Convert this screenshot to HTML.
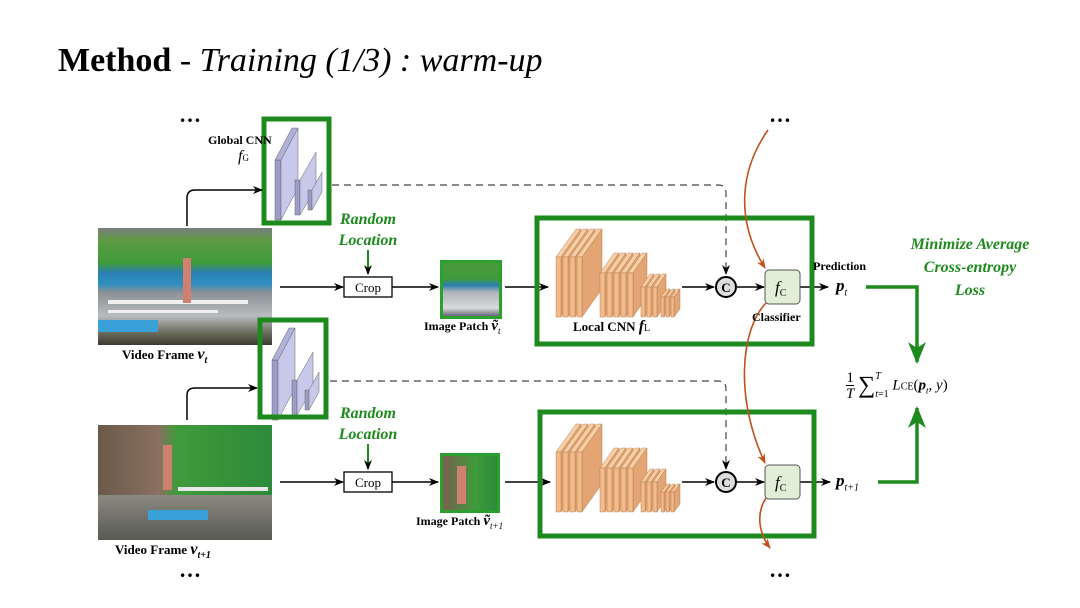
<!DOCTYPE html>
<html><head><meta charset="utf-8"><style>
html,body{margin:0;padding:0;background:#fff;}
body{width:1080px;height:608px;overflow:hidden;position:relative;font-family:"Liberation Serif",serif;}
.t{position:absolute;white-space:nowrap;}
.photo{position:absolute;overflow:hidden;}
</style></head><body>
<div class="t" style="left:58px;top:42px;font-size:34px;"><b>Method</b> - <i>Training (1/3) : warm-up</i></div>

<!-- photos -->
<div class="photo" style="left:98px;top:228px;width:174px;height:117px;background:linear-gradient(#7a7e80 0%,#5d9a44 10%,#3f9b3a 30%,#2a7fb0 38%,#2e8fc0 48%,#8a9095 55%,#b8bcbe 75%,#6a6a5a 90%,#3a3a30 100%);">
<div style="position:absolute;left:0;top:92px;width:60px;height:12px;background:#3aa0d8;"></div>
<div style="position:absolute;left:10px;top:72px;width:140px;height:4px;background:#f0f0f0;"></div>
<div style="position:absolute;left:10px;top:82px;width:110px;height:3px;background:#f0f0f0;"></div>
<div style="position:absolute;left:85px;top:30px;width:8px;height:45px;background:#d08070;"></div></div>
<div class="photo" style="left:98px;top:425px;width:174px;height:115px;background:linear-gradient(90deg,#6a5a4a 0%,#8a7060 35%,#3f9b3a 45%,#2d8a3a 100%);">
<div style="position:absolute;left:0;top:70px;width:174px;height:45px;background:linear-gradient(#8a8a80,#5a5a55);"></div>
<div style="position:absolute;left:50px;top:85px;width:60px;height:10px;background:#3aa0d8;"></div>
<div style="position:absolute;left:80px;top:62px;width:90px;height:4px;background:#e8e8e8;"></div>
<div style="position:absolute;left:65px;top:20px;width:9px;height:45px;background:#d08070;"></div></div>
<!-- patches -->
<div class="photo" style="left:440px;top:260px;width:56px;height:53px;border:3px solid #2ca02c;background:linear-gradient(#4a9a3c 0%,#3f9b3a 30%,#2a80b0 42%,#b0b4b8 55%,#d8dadc 85%,#667 100%);"></div>
<div class="photo" style="left:440px;top:453px;width:54px;height:54px;border:3px solid #2ca02c;background:linear-gradient(90deg,#7a6050,#3f9b3a 60%,#2d8a3a);"><div style="position:absolute;left:14px;top:10px;width:9px;height:38px;background:#d08070;"></div></div>

<svg width="1080" height="608" style="position:absolute;left:0;top:0" xmlns="http://www.w3.org/2000/svg">
<defs>
<marker id="ab" markerWidth="10" markerHeight="8" refX="9" refY="4" orient="auto" markerUnits="userSpaceOnUse"><path d="M0,0 L10,4 L0,8 L3,4z" fill="#000"/></marker>
<marker id="ag" markerWidth="22" markerHeight="18" refX="20" refY="9" orient="auto" markerUnits="userSpaceOnUse"><path d="M0,0 L22,9 L0,18 L6,9z" fill="#1e8a1e"/></marker>
<marker id="ar" markerWidth="10" markerHeight="8" refX="9" refY="4" orient="auto" markerUnits="userSpaceOnUse"><path d="M0,0 L10,4 L0,8 L3,4z" fill="#c0501c"/></marker>
<g id="gcnn">
<polygon points="275,160 281,160 281,220 275,220" fill="#9c9cc8" stroke="#666" stroke-width="0.5"/>
<polygon points="281,160 298,128 298,188 281,220" fill="#c8c8ea" stroke="#666" stroke-width="0.5"/>
<polygon points="275,160 292,128 298,128 281,160" fill="#b0b0d8" stroke="#666" stroke-width="0.5"/>
<polygon points="295,180 300,180 300,215 295,215" fill="#9c9cc8" stroke="#666" stroke-width="0.5"/>
<polygon points="300,180 316,152 316,188 300,215" fill="#c8c8ea" stroke="#666" stroke-width="0.5"/>
<polygon points="308,190 312,190 312,210 308,210" fill="#9c9cc8" stroke="#666" stroke-width="0.5"/>
<polygon points="312,190 322,172 322,192 312,210" fill="#c8c8ea" stroke="#666" stroke-width="0.5"/>
</g>
</defs>
<!-- global CNN top -->
<use href="#gcnn"/>
<rect x="264" y="119" width="65" height="104" fill="none" stroke="#1e8a1e" stroke-width="5"/>
<!-- global CNN bottom -->
<use href="#gcnn" transform="translate(-3,200)"/>
<rect x="260" y="320" width="66" height="97" fill="none" stroke="#1e8a1e" stroke-width="5"/>

<!-- frame to global arrows -->
<path d="M187,226 V198 Q187,190 195,190 H262" fill="none" stroke="#000" stroke-width="1.5" marker-end="url(#ab)"/>
<path d="M187,420 V395 Q187,388 195,388 H257" fill="none" stroke="#000" stroke-width="1.5" marker-end="url(#ab)"/>
<!-- dashed -->
<path d="M332,185 H718 Q726,185 726,193 V274" fill="none" stroke="#444" stroke-width="1.2" stroke-dasharray="7,5" marker-end="url(#ab)"/>
<path d="M330,381 H718 Q726,381 726,389 V469" fill="none" stroke="#444" stroke-width="1.2" stroke-dasharray="7,5" marker-end="url(#ab)"/>

<!-- main row arrows -->
<g stroke="#000" stroke-width="1.5" fill="none" marker-end="url(#ab)">
<line x1="280" y1="287" x2="343" y2="287"/><line x1="392" y1="287" x2="438" y2="287"/><line x1="505" y1="287" x2="548" y2="287"/>
<line x1="682" y1="287" x2="714" y2="287"/><line x1="737" y1="287" x2="764" y2="287"/><line x1="800" y1="287" x2="828" y2="287"/>
<line x1="280" y1="482" x2="343" y2="482"/><line x1="392" y1="482" x2="438" y2="482"/><line x1="505" y1="482" x2="550" y2="482"/>
<line x1="682" y1="482" x2="714" y2="482"/><line x1="737" y1="482" x2="764" y2="482"/><line x1="800" y1="482" x2="830" y2="482"/>
</g>
<!-- crop boxes -->
<rect x="344" y="277" width="48" height="20" fill="#fff" stroke="#000" stroke-width="1.3"/>
<rect x="344" y="472" width="48" height="20" fill="#fff" stroke="#000" stroke-width="1.3"/>
<text x="368" y="292" font-size="13" text-anchor="middle" font-family="Liberation Serif">Crop</text>
<text x="368" y="487" font-size="13" text-anchor="middle" font-family="Liberation Serif">Crop</text>
<!-- green down arrows -->
<line x1="368" y1="250" x2="368" y2="274" stroke="#1e8a1e" stroke-width="2" marker-end="url(#ab)"/>
<line x1="368" y1="444" x2="368" y2="469" stroke="#1e8a1e" stroke-width="2" marker-end="url(#ab)"/>

<g id="cnnL"></g>
<g id="cnnL2"></g>
<!-- local boxes -->
<rect x="537" y="218" width="275" height="126" fill="none" stroke="#1e8a1e" stroke-width="5"/>
<rect x="540" y="412" width="274" height="124" fill="none" stroke="#1e8a1e" stroke-width="5"/>

<!-- C circles -->
<circle cx="726" cy="287" r="10" fill="#ddd" stroke="#000" stroke-width="2"/>
<text x="726" y="292" font-size="13" font-weight="bold" text-anchor="middle">C</text>
<circle cx="726" cy="482" r="10" fill="#ddd" stroke="#000" stroke-width="2"/>
<text x="726" y="487" font-size="13" font-weight="bold" text-anchor="middle">C</text>
<!-- fc boxes -->
<rect x="765" y="270" width="35" height="34" rx="4" fill="#e2efd8" stroke="#555" stroke-width="1"/>
<rect x="765" y="465" width="35" height="34" rx="4" fill="#e2efd8" stroke="#555" stroke-width="1"/>
<text x="775" y="293" font-size="17" font-style="italic">f<tspan font-size="10" font-style="normal" dy="3">C</tspan></text>
<text x="775" y="488" font-size="17" font-style="italic">f<tspan font-size="10" font-style="normal" dy="3">C</tspan></text>

<!-- brown curves -->
<g stroke="#c0501c" stroke-width="1.6" fill="none" marker-end="url(#ar)">
<path d="M768,130 C740,170 735,220 765,268"/>
<path d="M766,303 C740,330 735,400 765,463"/>
<path d="M766,498 C755,515 760,535 770,548"/>
</g>

<!-- green loss arrows -->
<path d="M866,287 H917 V362" fill="none" stroke="#1e8a1e" stroke-width="3.5" marker-end="url(#ag)"/>
<path d="M878,482 H917 V408" fill="none" stroke="#1e8a1e" stroke-width="3.5" marker-end="url(#ag)"/>

<!-- dots -->
<g font-size="22" font-weight="bold" text-anchor="middle">
<text x="190" y="122">…</text><text x="780" y="122">…</text>
<text x="190" y="577">…</text><text x="780" y="577">…</text>
</g>
</svg>

<!-- labels -->
<div class="t" style="left:208px;top:133px;font-size:12px;font-weight:bold;">Global CNN</div>
<div class="t" style="left:238px;top:148px;font-size:16px;font-style:italic;">f<span style="font-size:9px;font-style:normal;">G</span></div>
<div class="t" style="left:333px;top:209px;font-size:16px;font-weight:bold;font-style:italic;color:#1e8a1e;text-align:center;width:70px;line-height:21px;">Random<br>Location</div>
<div class="t" style="left:333px;top:403px;font-size:16px;font-weight:bold;font-style:italic;color:#1e8a1e;text-align:center;width:70px;line-height:21px;">Random<br>Location</div>
<div class="t" style="left:122px;top:346px;font-size:13px;font-weight:bold;">Video Frame <i style="font-size:16px;">v<sub style="font-size:10px;">t</sub></i></div>
<div class="t" style="left:115px;top:541px;font-size:13px;font-weight:bold;">Video Frame <i style="font-size:16px;">v<sub style="font-size:10px;">t+1</sub></i></div>
<div class="t" style="left:424px;top:318px;font-size:12px;font-weight:bold;">Image Patch <i style="font-size:15px;">ṽ<sub style="font-size:9px;font-weight:normal;">t</sub></i></div>
<div class="t" style="left:416px;top:513px;font-size:12px;font-weight:bold;">Image Patch <i style="font-size:15px;">ṽ<sub style="font-size:9px;font-weight:normal;">t+1</sub></i></div>
<div class="t" style="left:573px;top:318px;font-size:13px;font-weight:bold;">Local CNN <i style="font-size:16px;">f</i><span style="font-size:10px;font-weight:normal;">L</span></div>
<div class="t" style="left:752px;top:310px;font-size:12px;font-weight:bold;">Classifier</div>
<div class="t" style="left:813px;top:259px;font-size:12px;font-weight:bold;">Prediction</div>
<div class="t" style="left:836px;top:276px;font-size:17px;font-weight:bold;font-style:italic;">p<sub style="font-size:10px;font-weight:normal;">t</sub></div>
<div class="t" style="left:836px;top:471px;font-size:17px;font-weight:bold;font-style:italic;">p<sub style="font-size:10px;font-weight:normal;">t+1</sub></div>
<div class="t" style="left:880px;top:233px;font-size:16px;font-weight:bold;font-style:italic;color:#1e8a1e;text-align:center;width:180px;line-height:23px;">Minimize Average<br>Cross-entropy<br>Loss</div>
<div class="t" style="left:846px;top:368px;font-size:15px;">
<span style="display:inline-block;text-align:center;vertical-align:middle;line-height:16px;">1<br><span style="border-top:1px solid #000;font-style:italic;">T</span></span>
<span style="font-size:24px;vertical-align:middle;">∑</span><span style="display:inline-block;vertical-align:middle;font-size:10px;line-height:18px;"><i>T</i><br><i>t</i>=1</span>
<i>L</i><span style="font-size:10px;">CE</span>(<b><i>p</i></b><sub style="font-size:9px;"><i>t</i></sub>, <i>y</i>)</div>

<script>
function slabs(gid,base,list){
 var g=document.getElementById(gid),s='';
 list.forEach(function(a){var x=a[0],w=a[1],H=a[2],dx=a[3],dy=a[4],t=base-H;
 s+='<polygon points="'+x+','+t+' '+(x+dx)+','+(t-dy)+' '+(x+w+dx)+','+(t-dy)+' '+(x+w)+','+t+'" fill="#f6cfa6" stroke="#b07040" stroke-width="0.4"/>';
 s+='<polygon points="'+(x+w)+','+t+' '+(x+w+dx)+','+(t-dy)+' '+(x+w+dx)+','+(base-dy)+' '+(x+w)+','+base+'" fill="#e3a574" stroke="#b07040" stroke-width="0.4"/>';
 s+='<rect x="'+x+'" y="'+t+'" width="'+w+'" height="'+H+'" fill="#f1bb8c" stroke="#b07040" stroke-width="0.4"/>';});
 g.innerHTML=s;}
var L=[[556,5,60,20,28],[563,5,60,20,28],[570,5,60,20,28],[577,5,60,20,28],[600,5,44,14,20],[607,5,44,14,20],[614,5,44,14,20],[621,5,44,14,20],[628,5,44,14,20],[641,4,30,9,13],[647,4,30,9,13],[653,4,30,9,13],[661,3,20,6,8],[666,3,20,6,8],[671,3,20,6,8]];
slabs('cnnL',317,L);slabs('cnnL2',512,L);
</script>
</body></html>
